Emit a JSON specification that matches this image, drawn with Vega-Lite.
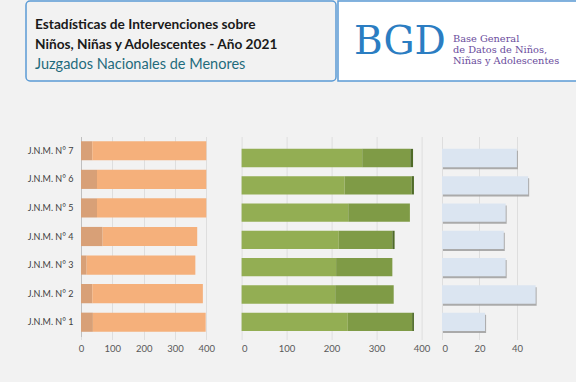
{
  "$schema": "https://vega.github.io/schema/vega-lite/v6.json",
  "background": "#f2f2f2",
  "padding": {"left": 25, "top": 0, "right": 0, "bottom": 29},
  "config": {
    "view": {"stroke": null},
    "font": "Lato",
    "axis": {
      "labelFont": "Lato",
      "labelFontSize": 9.5,
      "labelColor": "#595959",
      "gridColor": "#dedede",
      "tickColor": "#dedede",
      "title": null
    }
  },
  "datasets": {
    "encabezado": [
      {"orden": 1, "tipo": "titulo", "texto": "Estadísticas de Intervenciones sobre"},
      {"orden": 2, "tipo": "titulo", "texto": "Niños, Niñas y Adolescentes - Año 2021"},
      {"orden": 3, "tipo": "subtitulo", "texto": "Juzgados Nacionales de Menores"}
    ],
    "logo": [
      {"tipo": "sigla", "texto": "BGD"},
      {"tipo": "leyenda", "texto": ["Base General", "de Datos de Niños,", "Niñas y Adolescentes"]}
    ],
    "barras": [
      {"panel": 1, "juzgado": "J.N.M. N° 1", "serie": "A1", "valor": 38},
      {"panel": 1, "juzgado": "J.N.M. N° 1", "serie": "A2", "valor": 360},
      {"panel": 1, "juzgado": "J.N.M. N° 2", "serie": "A1", "valor": 36},
      {"panel": 1, "juzgado": "J.N.M. N° 2", "serie": "A2", "valor": 353},
      {"panel": 1, "juzgado": "J.N.M. N° 3", "serie": "A1", "valor": 18},
      {"panel": 1, "juzgado": "J.N.M. N° 3", "serie": "A2", "valor": 347},
      {"panel": 1, "juzgado": "J.N.M. N° 4", "serie": "A1", "valor": 69},
      {"panel": 1, "juzgado": "J.N.M. N° 4", "serie": "A2", "valor": 302},
      {"panel": 1, "juzgado": "J.N.M. N° 5", "serie": "A1", "valor": 51},
      {"panel": 1, "juzgado": "J.N.M. N° 5", "serie": "A2", "valor": 349},
      {"panel": 1, "juzgado": "J.N.M. N° 6", "serie": "A1", "valor": 51},
      {"panel": 1, "juzgado": "J.N.M. N° 6", "serie": "A2", "valor": 349},
      {"panel": 1, "juzgado": "J.N.M. N° 7", "serie": "A1", "valor": 36},
      {"panel": 1, "juzgado": "J.N.M. N° 7", "serie": "A2", "valor": 364},
      {"panel": 2, "juzgado": "J.N.M. N° 1", "serie": "B1", "valor": 236},
      {"panel": 2, "juzgado": "J.N.M. N° 1", "serie": "B2", "valor": 143},
      {"panel": 2, "juzgado": "J.N.M. N° 1", "serie": "B3", "valor": 4},
      {"panel": 2, "juzgado": "J.N.M. N° 2", "serie": "B1", "valor": 208},
      {"panel": 2, "juzgado": "J.N.M. N° 2", "serie": "B2", "valor": 130},
      {"panel": 2, "juzgado": "J.N.M. N° 3", "serie": "B1", "valor": 210},
      {"panel": 2, "juzgado": "J.N.M. N° 3", "serie": "B2", "valor": 125},
      {"panel": 2, "juzgado": "J.N.M. N° 4", "serie": "B1", "valor": 216},
      {"panel": 2, "juzgado": "J.N.M. N° 4", "serie": "B2", "valor": 119},
      {"panel": 2, "juzgado": "J.N.M. N° 4", "serie": "B3", "valor": 5},
      {"panel": 2, "juzgado": "J.N.M. N° 5", "serie": "B1", "valor": 237},
      {"panel": 2, "juzgado": "J.N.M. N° 5", "serie": "B2", "valor": 137},
      {"panel": 2, "juzgado": "J.N.M. N° 6", "serie": "B1", "valor": 229},
      {"panel": 2, "juzgado": "J.N.M. N° 6", "serie": "B2", "valor": 149},
      {"panel": 2, "juzgado": "J.N.M. N° 6", "serie": "B3", "valor": 5},
      {"panel": 2, "juzgado": "J.N.M. N° 7", "serie": "B1", "valor": 268},
      {"panel": 2, "juzgado": "J.N.M. N° 7", "serie": "B2", "valor": 107},
      {"panel": 2, "juzgado": "J.N.M. N° 7", "serie": "B3", "valor": 6},
      {"panel": 3, "juzgado": "J.N.M. N° 1", "serie": "C1", "valor": 23},
      {"panel": 3, "juzgado": "J.N.M. N° 2", "serie": "C1", "valor": 50},
      {"panel": 3, "juzgado": "J.N.M. N° 3", "serie": "C1", "valor": 34},
      {"panel": 3, "juzgado": "J.N.M. N° 4", "serie": "C1", "valor": 33},
      {"panel": 3, "juzgado": "J.N.M. N° 5", "serie": "C1", "valor": 34},
      {"panel": 3, "juzgado": "J.N.M. N° 6", "serie": "C1", "valor": 46},
      {"panel": 3, "juzgado": "J.N.M. N° 7", "serie": "C1", "valor": 40}
    ]
  },
  "spacing": 54.5,
  "vconcat": [
    {
      "spacing": 0,
      "hconcat": [
        {
          "width": 310,
          "height": 80,
          "view": {"fill": "#f2f2f2", "stroke": "#5b9bd5", "strokeWidth": 1.5, "cornerRadius": 4},
          "data": {"name": "encabezado"},
          "encoding": {
            "y": {"field": "orden", "type": "ordinal", "scale": {"type": "point", "padding": 1.247, "align": 0.6}, "axis": null},
            "x": {"datum": 0, "type": "quantitative", "scale": {"domain": [-0.03, 1], "nice": false}, "axis": null},
            "text": {"field": "texto"}
          },
          "layer": [
            {"transform": [{"filter": "datum.tipo == 'titulo'"}],
             "mark": {"type": "text", "align": "left", "baseline": "middle", "font": "Lato", "fontSize": 13.7, "fontWeight": "bold", "color": "#1a1a1a"}},
            {"transform": [{"filter": "datum.tipo == 'subtitulo'"}],
             "mark": {"type": "text", "align": "left", "baseline": "middle", "font": "Lato", "fontSize": 14.5, "fontWeight": "normal", "color": "#1f6b7c"}}
          ]
        },
        {
          "width": 240,
          "height": 80,
          "view": {"fill": "white", "stroke": "#5b9bd5", "strokeWidth": 1.5},
          "data": {"name": "logo"},
          "encoding": {"text": {"field": "texto"}},
          "layer": [
            {"transform": [{"filter": "datum.tipo == 'sigla'"}],
             "mark": {"type": "text", "align": "center", "baseline": "alphabetic", "font": "DejaVu Serif", "fontSize": 39, "color": "#2b7dc2"},
             "encoding": {
               "x": {"datum": 0.258, "type": "quantitative", "scale": {"domain": [0, 1], "nice": false}, "axis": null},
               "y": {"datum": 0.3375, "type": "quantitative", "scale": {"domain": [0, 1], "nice": false}, "axis": null}
             }},
            {"transform": [{"filter": "datum.tipo == 'leyenda'"}],
             "mark": {"type": "text", "align": "left", "baseline": "middle", "font": "DejaVu Serif", "fontSize": 9.8, "lineHeight": 10.8, "color": "#6a4c9c"},
             "encoding": {
               "x": {"datum": 0.479, "type": "quantitative", "scale": {"domain": [0, 1], "nice": false}, "axis": null},
               "y": {"datum": 0.519, "type": "quantitative", "scale": {"domain": [0, 1], "nice": false}, "axis": null}
             }}
          ]
        }
      ]
    },
    {
      "spacing": 10,
      "hconcat": [
        {
          "spacing": 19.6,
          "hconcat": [
            {
              "width": 194.4,
              "height": 200,
              "data": {"name": "barras"},
              "transform": [{"filter": "datum.panel == 1"}],
              "mark": {"type": "bar"},
              "encoding": {
                "y": {"field": "juzgado", "type": "nominal",
                      "sort": ["J.N.M. N° 7", "J.N.M. N° 6", "J.N.M. N° 5", "J.N.M. N° 4", "J.N.M. N° 3", "J.N.M. N° 2", "J.N.M. N° 1"],
                      "scale": {"paddingInner": 0.33, "paddingOuter": 0.165},
                      "axis": {"offset": -55, "ticks": false, "domain": true, "domainColor": "#bfbfbf", "labelPadding": 8, "labelColor": "#404040", "labelFontSize": 9, "minExtent": 0, "maxExtent": 0}},
                "x": {"field": "valor", "type": "quantitative", "stack": "zero",
                      "scale": {"domain": [-175.6, 445], "nice": false, "zero": false},
                      "axis": {"values": [0, 100, 200, 300, 400], "domain": false, "tickSize": 3, "labelPadding": 4}},
                "color": {"field": "serie", "type": "nominal",
                          "scale": {"domain": ["A1", "A2", "B1", "B2", "B3"], "range": ["#d8a077", "#f5b07b", "#93ae53", "#7f9b46", "#4f6b28"]},
                          "legend": null}
              }
            },
            {
              "width": 189,
              "height": 200,
              "data": {"name": "barras"},
              "transform": [{"filter": "datum.panel == 2"}],
              "mark": {"type": "bar"},
              "encoding": {
                "y": {"field": "juzgado", "type": "nominal",
                      "sort": ["J.N.M. N° 7", "J.N.M. N° 6", "J.N.M. N° 5", "J.N.M. N° 4", "J.N.M. N° 3", "J.N.M. N° 2", "J.N.M. N° 1"],
                      "scale": {"paddingInner": 0.33, "paddingOuter": 0.328, "align": 0.69},
                      "axis": null},
                "x": {"field": "valor", "type": "quantitative", "stack": "zero",
                      "scale": {"domain": [0, 420], "nice": false},
                      "axis": {"values": [0, 100, 200, 300, 400], "domain": false, "tickSize": 3, "labelPadding": 4}},
                "color": {"field": "serie", "type": "nominal",
                          "scale": {"domain": ["A1", "A2", "B1", "B2", "B3"], "range": ["#d8a077", "#f5b07b", "#93ae53", "#7f9b46", "#4f6b28"]},
                          "legend": null}
              }
            }
          ]
        },
        {
          "width": 103,
          "height": 200,
          "data": {"name": "barras"},
          "transform": [{"filter": "datum.panel == 3"}],
          "encoding": {
            "y": {"field": "juzgado", "type": "nominal",
                  "sort": ["J.N.M. N° 7", "J.N.M. N° 6", "J.N.M. N° 5", "J.N.M. N° 4", "J.N.M. N° 3", "J.N.M. N° 2", "J.N.M. N° 1"],
                  "scale": {"paddingInner": 0.33, "paddingOuter": 0.328, "align": 0.69},
                  "axis": null},
            "x": {"field": "valor", "type": "quantitative",
                  "scale": {"domain": [0, 55], "nice": false},
                  "axis": {"values": [0, 20, 40], "domain": false, "tickSize": 3, "labelPadding": 4}}
          },
          "layer": [
            {"mark": {"type": "bar", "color": "#9e9e9e", "opacity": 0.85, "xOffset": 1, "yOffset": 2}},
            {"mark": {"type": "bar", "color": "#dbe5f1"}}
          ]
        }
      ]
    }
  ]
}
